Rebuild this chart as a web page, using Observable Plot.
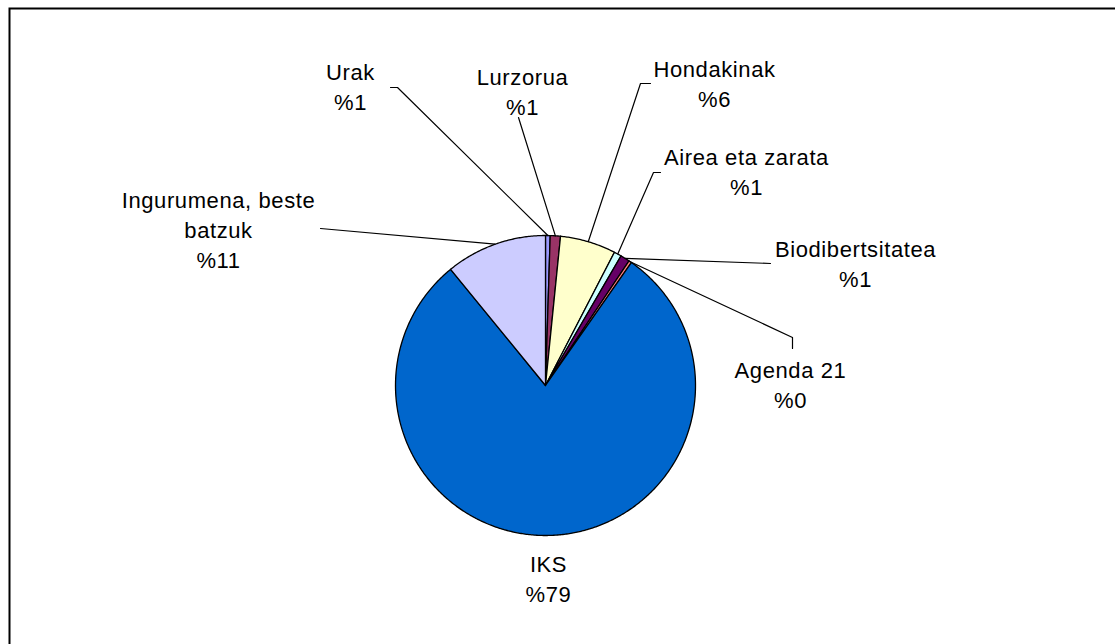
<!DOCTYPE html>
<html>
<head>
<meta charset="utf-8">
<script src="https://cdn.jsdelivr.net/npm/d3@7"></script>
<script src="https://cdn.jsdelivr.net/npm/@observablehq/plot@0.6"></script>
<style>
  html, body { margin: 0; padding: 0; background: #fff; overflow: hidden; }
</style>
</head>
<body>
<div id="chart"></div>
<script>
// ---- data ----
const names = ["Urak", "Lurzorua", "Hondakinak", "Airea eta zarata", "Biodibertsitatea", "Agenda 21", "IKS", "Ingurumena, beste batzuk"];
const values = [0.5, 1.1, 6.0, 0.8, 1.0, 0.3, 79.4, 10.9];
const colors = ["#9999FF", "#993366", "#FFFFCC", "#CCFFFF", "#660066", "#FF8080", "#0066CC", "#CCCCFF"];

// ---- layout (pixels) ----
const W = 1115, H = 644, CX = 545, CY = 385, R = 150;
const labelPos = [[350, 85], [522, 90], [714, 82], [746, 170], [855, 262], [790, 383], [548, 577], [218, 228]];
const leaderStart = [
  [[390, 87], [397, 87]],
  [[518, 117]],
  [[650, 83], [640, 83]],
  [[660, 172], [653, 172]],
  [[770, 263]],
  [[792, 348], [792, 337]],
  null,
  [[320, 228]]
];

const U = ([px, py]) => ({x: (px - CX) / R, y: (py - CY) / R});

const arcs = d3.pie().sort(null).value(d => d)(values);

const slicePts = [];
arcs.forEach((a, i) => {
  slicePts.push({name: names[i], color: colors[i], x: 0, y: 0});
  const n = Math.max(2, Math.ceil((a.endAngle - a.startAngle) / (Math.PI / 360)));
  for (let k = 0; k <= n; k++) {
    const t = a.startAngle + (a.endAngle - a.startAngle) * k / n;
    slicePts.push({name: names[i], color: colors[i], x: Math.sin(t), y: -Math.cos(t)});
  }
  slicePts.push({name: names[i], color: colors[i], x: 0, y: 0});
});

const leaderPts = [];
arcs.forEach((a, i) => {
  if (!leaderStart[i]) return;
  leaderStart[i].forEach(p => leaderPts.push({name: names[i], ...U(p)}));
  const m = (a.startAngle + a.endAngle) / 2;
  leaderPts.push({name: names[i], x: Math.sin(m), y: -Math.cos(m)});
});

const labels = names.map((nm, i) => ({
  ...U(labelPos[i]),
  text: nm + "\n%" + Math.round(values[i])
}));

const chart = Plot.plot({
  width: W,
  height: H,
  margin: 0,
  style: {fontFamily: "'Liberation Sans', Arial, sans-serif", letterSpacing: "0.6px", background: "#fff"},
  x: {domain: [-CX / R, (W - CX) / R], range: [0, W], axis: null},
  y: {domain: [-CY / R, (H - CY) / R], range: [0, H], axis: null},
  color: {type: "identity"},
  marks: [
    Plot.frame({stroke: "black", strokeWidth: 2, insetLeft: 9, insetTop: 8, insetRight: -10, insetBottom: -10}),
    Plot.line(slicePts, {x: "x", y: "y", z: "name", fill: "color", stroke: "black", strokeWidth: 1.3, strokeLinejoin: "round"}),
    Plot.line(leaderPts, {x: "x", y: "y", z: "name", stroke: "black", strokeWidth: 1.2}),
    Plot.text(labels, {x: "x", y: "y", text: "text", fontSize: 22, lineHeight: 1.36, lineAnchor: "middle", textAnchor: "middle", fill: "black", lineWidth: 10})
  ]
});
document.getElementById("chart").appendChild(chart);
</script>
</body>
</html>
